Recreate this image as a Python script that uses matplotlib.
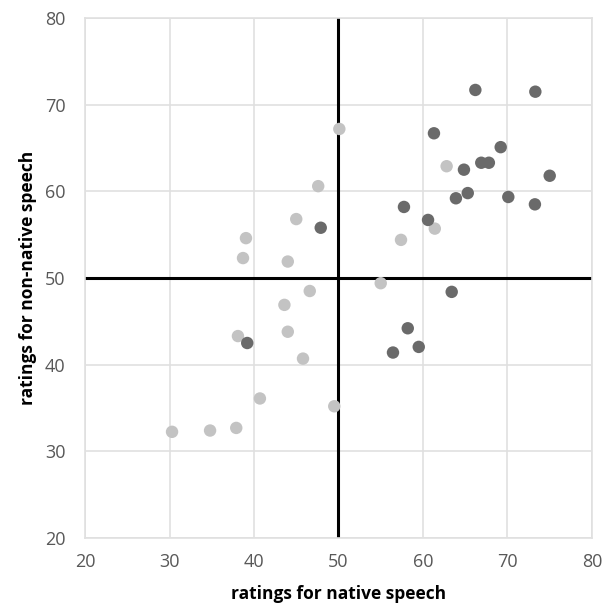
import matplotlib
matplotlib.use("Agg")
import matplotlib.pyplot as plt

# light grey group
light_x = [50.1, 47.6, 45.0, 39.05, 38.7, 44.0, 43.6, 46.6, 38.1, 44.0, 45.8,
           40.7, 49.5, 30.3, 34.8, 37.9, 55.0, 57.4, 61.4, 62.8]
light_y = [67.2, 60.6, 56.8, 54.6, 52.3, 51.9, 46.9, 48.5, 43.3, 43.8, 40.7,
           36.1, 35.2, 32.25, 32.4, 32.7, 49.4, 54.4, 55.7, 62.9]

# dark grey group
dark_x = [47.9, 39.2, 66.2, 73.3, 61.3, 69.2, 66.9, 67.8, 64.85, 75.0, 57.75,
          65.3, 63.9, 70.1, 73.25, 60.6, 63.4, 58.2, 59.5, 56.45]
dark_y = [55.8, 42.5, 71.7, 71.5, 66.7, 65.1, 63.3, 63.3, 62.5, 61.8, 58.2,
          59.8, 59.2, 59.35, 58.5, 56.7, 48.4, 44.2, 42.05, 41.4]

ticks = [20, 30, 40, 50, 60, 70, 80]

plt.rcParams['font.family'] = ['Open Sans', 'DejaVu Sans']

fig = plt.figure(figsize=(6.09, 6.07), dpi=100)
ax = fig.add_axes([0.1396, 0.1137, 0.8324, 0.8566])

ax.scatter(light_x, light_y, s=80, color="#c3c3c3", edgecolors="none", zorder=3)
ax.scatter(dark_x, dark_y, s=80, color="#6a6a6a", edgecolors="none", zorder=3)

ax.axvline(50, color="black", lw=2.2, zorder=2)
ax.axhline(50, color="black", lw=2.2, zorder=2)

ax.set_xlim(20, 80)
ax.set_ylim(20, 80)
ax.set_xticks(ticks)
ax.set_yticks(ticks)
ax.grid(True, color="#e0e0e0", lw=1.2, zorder=0)
ax.set_axisbelow(True)
for sp in ax.spines.values():
    sp.set_color("#e0e0e0")
    sp.set_linewidth(1.2)
ax.tick_params(length=0, labelsize=13, labelcolor="#585858")
ax.tick_params(axis="x", pad=11)
ax.tick_params(axis="y", pad=14)

ax.set_xlabel("ratings for native speech", fontsize=12.5, fontweight="bold", labelpad=10)
ax.set_ylabel("ratings for non-native speech", fontsize=12.5, fontweight="bold", labelpad=6)

fig.savefig("out.png", dpi=100)
